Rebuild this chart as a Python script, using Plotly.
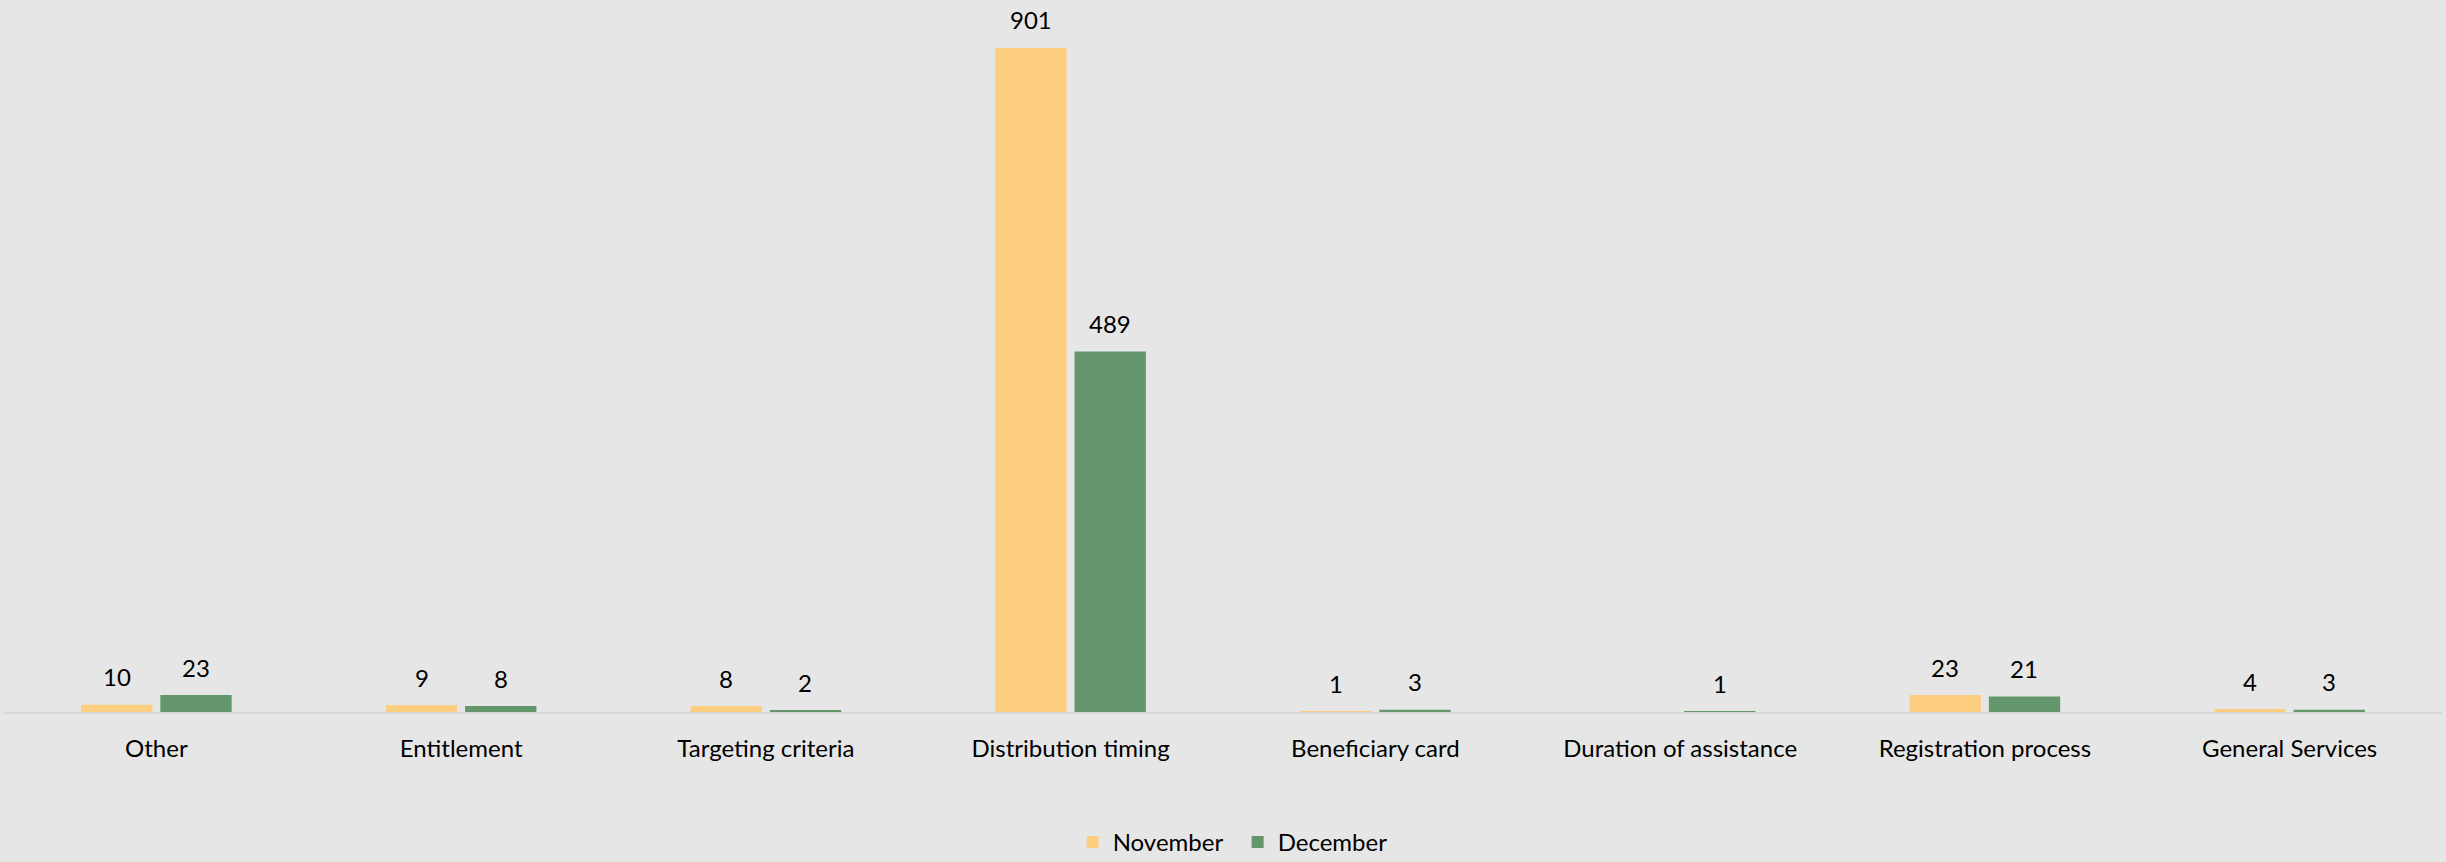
import plotly.graph_objects as go

categories = [
    "Other", "Entitlement", "Targeting criteria", "Distribution timing",
    "Beneficiary card", "Duration of assistance", "Registration process",
    "General Services",
]
november = [10, 9, 8, 901, 1, 0, 23, 4]
december = [23, 8, 2, 489, 3, 1, 21, 3]

NOV_COLOR = "#FDCD80"
DEC_COLOR = "#63976B"
BG = "#E6E6E6"
FONT = "Lato, 'Open Sans', sans-serif"
FS = 24

fig = go.Figure()
fig.add_bar(name="November", x=categories, y=november, marker_color=NOV_COLOR,
            marker_line_width=0)
fig.add_bar(name="December", x=categories, y=december, marker_color=DEC_COLOR,
            marker_line_width=0)

# value labels above each bar (zero values are left unlabeled)
annotations = []
for series, shift in ((november, -39.5), (december, 39.5)):
    for cat, val in zip(categories, series):
        if val == 0:
            continue
        annotations.append(dict(
            x=cat, y=val, text=str(val), showarrow=False,
            xshift=shift, yshift=28, yanchor="middle",
            font=dict(family=FONT, size=FS, color="#000000"),
        ))

fig.update_layout(
    width=2446, height=862,
    paper_bgcolor=BG, plot_bgcolor=BG,
    margin=dict(l=4, r=4, t=0, b=150, autoexpand=False),
    barmode="group", bargap=0.48, bargroupgap=0.1,
    font=dict(family=FONT, size=FS, color="#000000"),
    annotations=annotations,
    showlegend=True,
    legend=dict(orientation="h", x=0.506, xanchor="center", y=-0.183,
                yanchor="middle", bgcolor="rgba(0,0,0,0)",
                font=dict(family=FONT, size=FS), itemwidth=30,
                entrywidth=120),
)
fig.update_xaxes(showgrid=False, showline=True, linecolor="#D6D6D6", linewidth=2,
                 ticks="", tickfont=dict(family=FONT, size=FS), ticklabelstandoff=14)
fig.update_yaxes(range=[0, 966], visible=False, showgrid=False, zeroline=False)

fig.write_html("out.html")
